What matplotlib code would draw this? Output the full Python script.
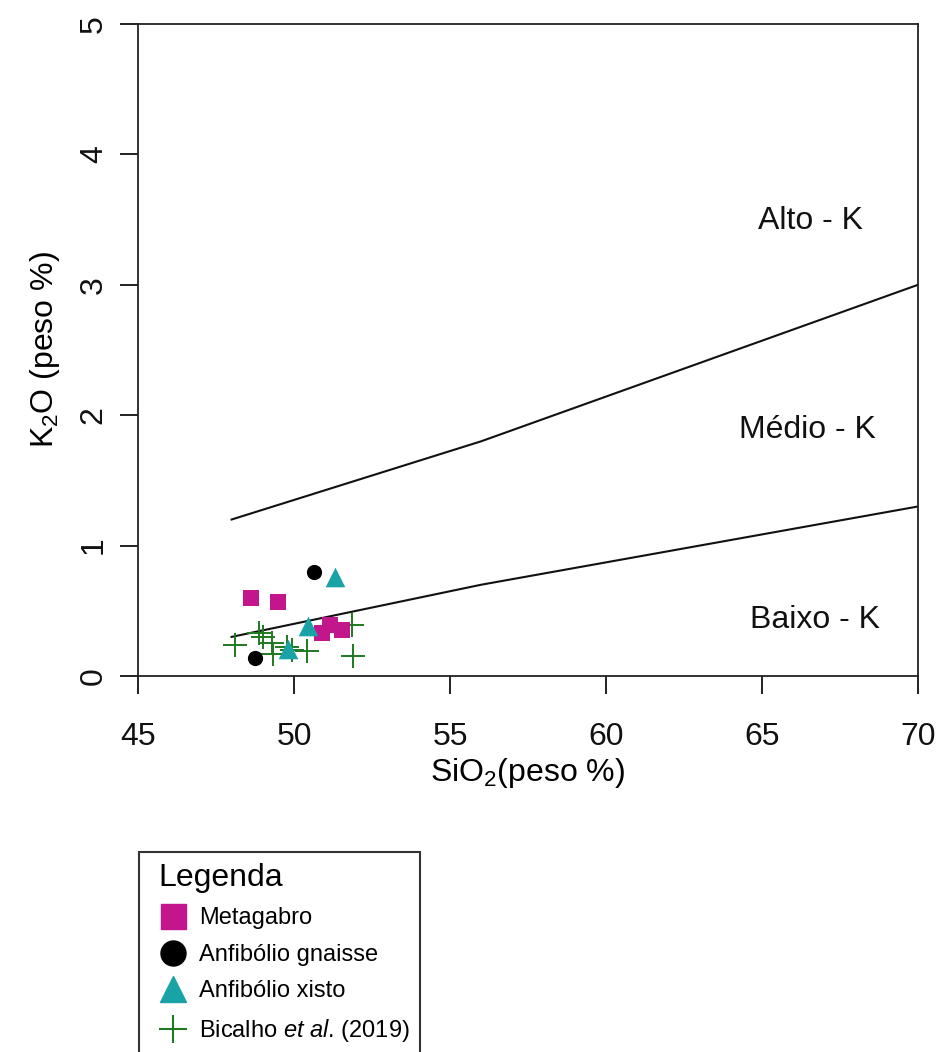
import matplotlib
matplotlib.use("Agg")
import matplotlib.pyplot as plt
from matplotlib.patches import Rectangle
from matplotlib.lines import Line2D

plt.rcParams['font.family'] = ['Liberation Sans', 'DejaVu Sans']
plt.rcParams['mathtext.fontset'] = 'custom'
plt.rcParams['mathtext.rm'] = 'Liberation Sans'
plt.rcParams['mathtext.it'] = 'Liberation Sans:italic'

# Boundary lines (Peccerillo & Taylor, 1976)
upper_x = [48, 52, 56, 63, 70]
upper_y = [1.2, 1.5, 1.8, 2.4, 3.0]
lower_x = [48, 52, 56, 63, 70]
lower_y = [0.3, 0.5, 0.7, 1.0, 1.3]

# Samples
metagabro_x = [48.62, 49.48, 50.89, 51.15, 51.53]
metagabro_y = [0.60, 0.57, 0.33, 0.39, 0.35]
gnaisse_x = [50.64, 48.75]
gnaisse_y = [0.80, 0.14]
xisto_x = [51.31, 50.46, 49.82]
xisto_y = [0.76, 0.38, 0.21]
bicalho_x = [48.11, 48.89, 49.02, 49.28, 49.34, 49.77, 49.93, 50.41, 51.85, 51.90]
bicalho_y = [0.24, 0.33, 0.30, 0.25, 0.17, 0.22, 0.20, 0.19, 0.39, 0.15]

field_labels = ["Alto - K", "Médio - K", "Baixo - K"]
field_x = [66.55, 66.47, 66.7]
field_y = [3.49, 1.89, 0.43]

c_mag = '#C4168C'
c_teal = '#1AA3A6'
c_green = '#1E7A1E'

fig = plt.figure(figsize=(9.38, 10.52), dpi=100)
ax = fig.add_axes([138/938, 1-676/1052, (918-138)/938, (676-24)/1052])

ax.plot(upper_x, upper_y, color='#111111', lw=1.5)
ax.plot(lower_x, lower_y, color='#111111', lw=1.5)

ax.scatter(bicalho_x, bicalho_y, marker='+', s=300, color=c_green, linewidths=1.4, zorder=3)
ax.scatter(metagabro_x, metagabro_y, marker='s', s=130, color=c_mag, linewidths=0, zorder=4)
ax.scatter(gnaisse_x, gnaisse_y, marker='o', s=120, color='black', linewidths=0, zorder=4)
ax.scatter(xisto_x, xisto_y, marker='^', s=200, color=c_teal, linewidths=0, zorder=4)

for t, x, y in zip(field_labels, field_x, field_y):
    ax.text(x, y, t, fontsize=23, ha='center', va='center', color='#111111')

ax.set_xlim(45, 70)
ax.set_ylim(0, 5)
ax.set_xticks([45, 50, 55, 60, 65, 70])
ax.set_yticks([0, 1, 2, 3, 4, 5])
ax.tick_params(axis='both', length=13, width=1.3, labelsize=23, colors='#111111')
ax.tick_params(axis='x', pad=20)
ax.tick_params(axis='y', pad=8)
for lbl in ax.get_yticklabels():
    lbl.set_rotation(90)
    lbl.set_va('center')
for sp in ax.spines.values():
    sp.set_linewidth(1.3)
    sp.set_color('#222222')

ax.set_xlabel(r'SiO$_\mathregular{2}$(peso %)', fontsize=23, labelpad=3)
ax.set_ylabel(r'K$_\mathregular{2}$O (peso %)', fontsize=23, labelpad=12)

handles = [
    Line2D([], [], marker='s', color=c_mag, ls='none', markersize=18),
    Line2D([], [], marker='o', color='black', ls='none', markersize=18),
    Line2D([], [], marker='^', color=c_teal, ls='none', markersize=19),
    Line2D([], [], marker='+', color=c_green, ls='none', markersize=20, markeredgewidth=1.5),
]
labels = ['Metagabro', 'Anfibólio gnaisse', 'Anfibólio xisto', r'Bicalho $\it{et\ al}$. (2019)']
leg = fig.legend(handles, labels, loc='upper left', bbox_to_anchor=(142/938, 1-846/1052),
                 frameon=False, fontsize=17, title='Legenda', title_fontsize=23,
                 alignment='left', handletextpad=0.5, labelspacing=0.62, borderpad=0.2,
                 handlelength=1.2)

fig.patches.append(Rectangle((139/938, -0.05), (420-139)/938, (1-852/1052) + 0.05,
                             transform=fig.transFigure, fill=False, edgecolor='#333333',
                             linewidth=1.5))

fig.savefig('out.png', dpi=100)
